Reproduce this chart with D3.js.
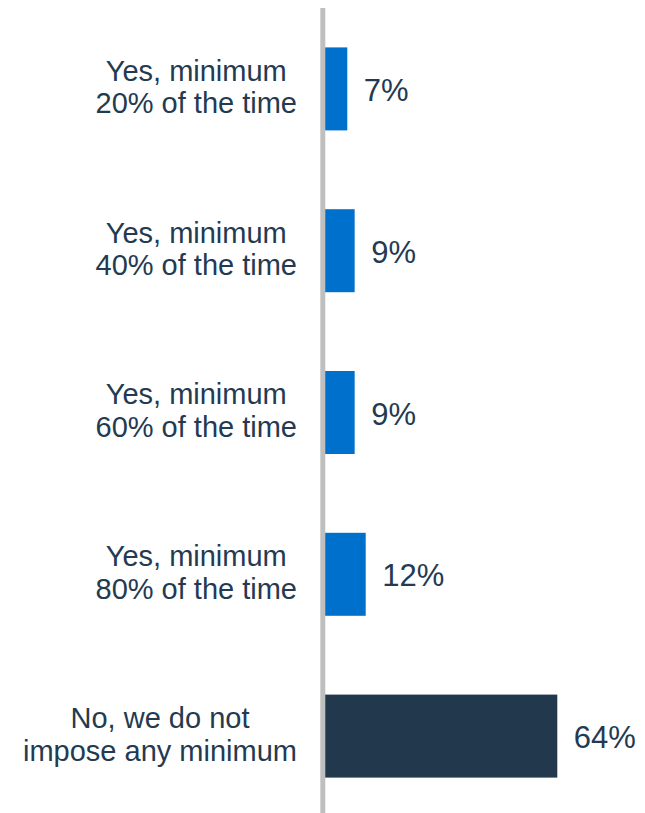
<!DOCTYPE html>
<html>
<head>
<meta charset="utf-8">
<script src="https://cdn.jsdelivr.net/npm/d3@7"></script>
<style>
  html, body { margin: 0; padding: 0; background: #ffffff; }
  svg { display: block; }
  text { font-family: "Liberation Sans", Arial, sans-serif; }
</style>
</head>
<body>
<div id="chart"></div>
<script>
// Survey answers: minimum share of time required
const categories = [
  ["Yes, minimum", "20% of the time"],
  ["Yes, minimum", "40% of the time"],
  ["Yes, minimum", "60% of the time"],
  ["Yes, minimum", "80% of the time"],
  ["No, we do not", "impose any minimum"]
];
const values = [7, 9, 9, 12, 64];
const valueLabels = ["7%", "9%", "9%", "12%", "64%"];
const barColors = ["#0070cd", "#0070cd", "#0070cd", "#0070cd", "#22384d"];

const width = 645, height = 813;
const textColor = "#243a50";

const svg = d3.select("#chart").append("svg")
  .attr("width", width)
  .attr("height", height);

const keys = categories.map((c, i) => "c" + i);

const y = d3.scaleBand()
  .domain(keys)
  .range([8, 817])
  .paddingInner(0.487)
  .paddingOuter(0.2435);

const x = d3.scaleLinear()
  .domain([0, 64])
  .range([321.5, 557.3]);

// bars
svg.append("g").selectAll("rect")
  .data(values)
  .join("rect")
  .attr("x", x(0))
  .attr("y", (d, i) => y(keys[i]))
  .attr("width", d => x(d) - x(0))
  .attr("height", y.bandwidth())
  .attr("fill", (d, i) => barColors[i]);

// vertical baseline
svg.append("line")
  .attr("x1", x(0) + 1.3)
  .attr("x2", x(0) + 1.3)
  .attr("y1", 8)
  .attr("y2", height)
  .attr("stroke", "#bfbfbf")
  .attr("stroke-width", 5);

// value labels
svg.append("g").selectAll("text")
  .data(values)
  .join("text")
  .attr("x", d => x(d) + 16.5)
  .attr("y", (d, i) => y(keys[i]) + y.bandwidth() / 2 + 12)
  .attr("fill", textColor)
  .attr("font-size", 31)
  .text((d, i) => valueLabels[i]);

// category labels: block right-aligned, lines centered within block
const labelRight = 297;
const catG = svg.append("g");
categories.forEach((lines, i) => {
  const cy = y(keys[i]) + y.bandwidth() / 2;
  const t = catG.append("text")
    .attr("fill", textColor)
    .attr("font-size", 29)
    .attr("text-anchor", "middle");
  const spans = lines.map((ln, j) => t.append("tspan")
    .attr("y", cy - 8.2 + j * 32.6)
    .text(ln));
  const maxW = d3.max(spans, s => s.node().getComputedTextLength());
  spans.forEach(s => s.attr("x", labelRight - maxW / 2));
});
</script>
</body>
</html>
